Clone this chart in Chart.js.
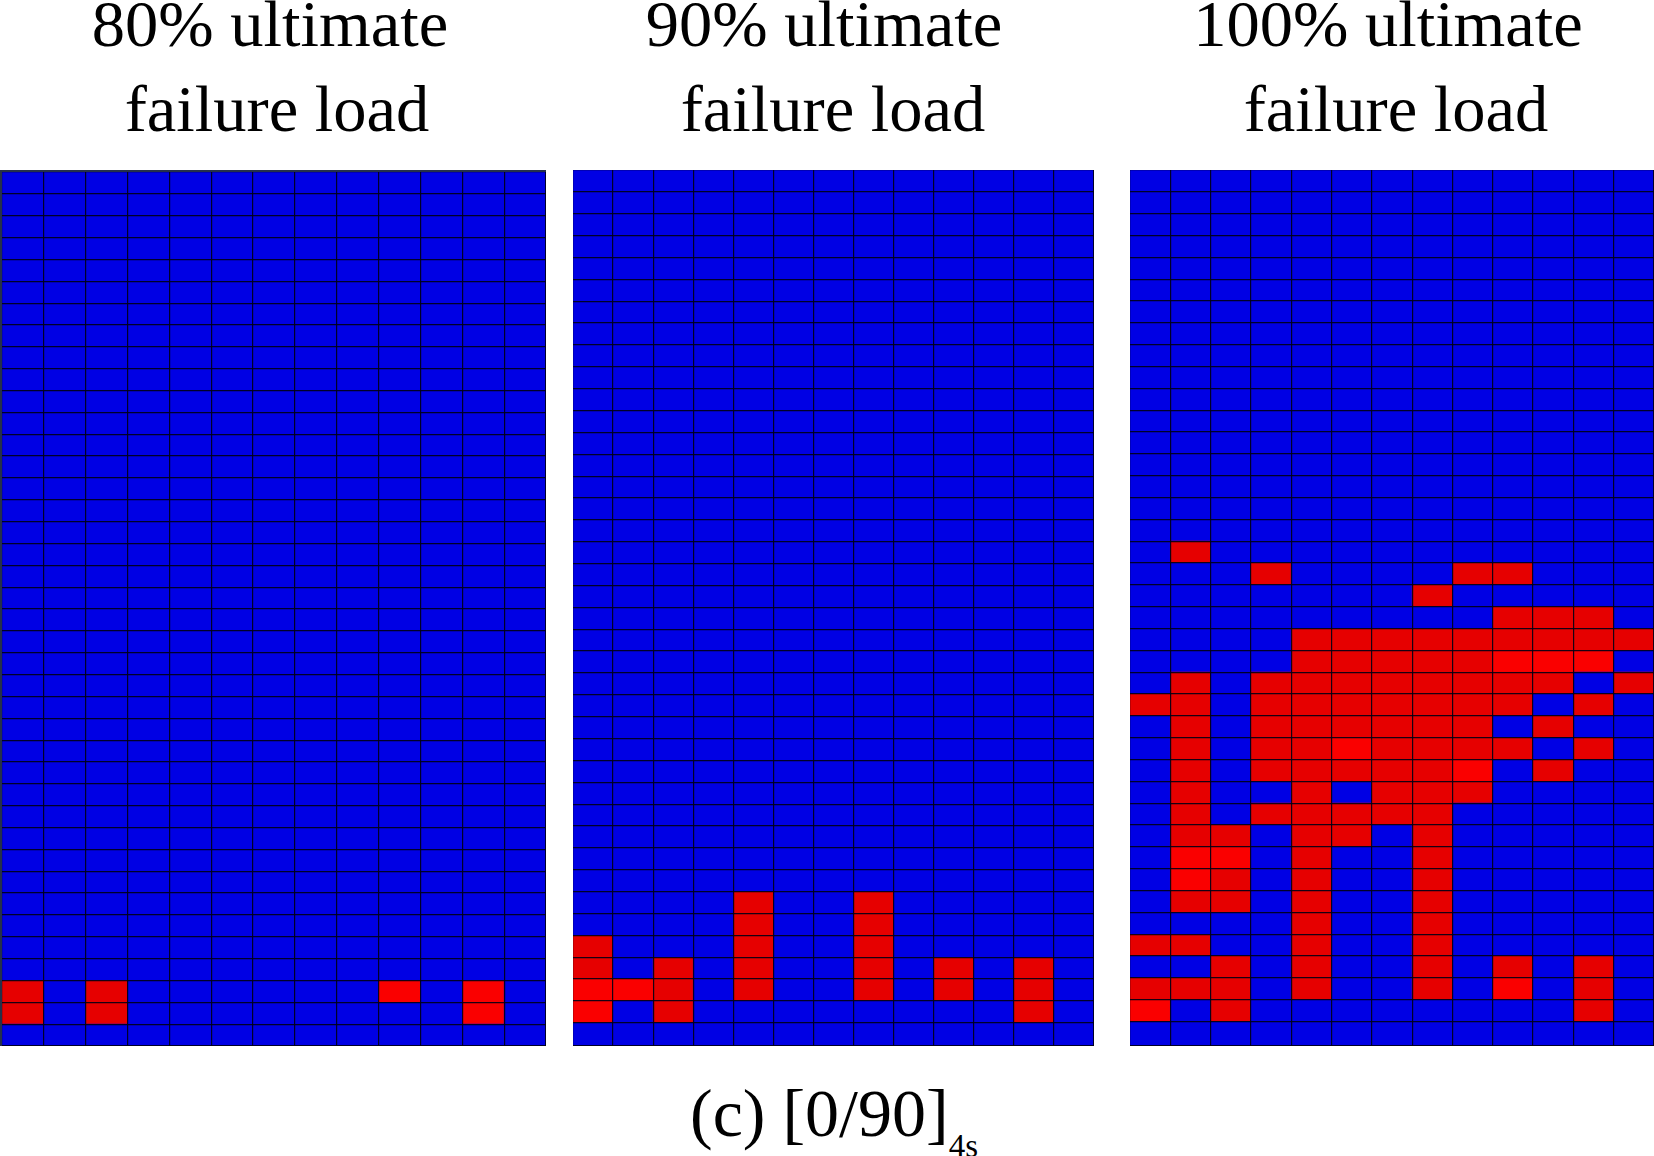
<!DOCTYPE html>
<html>
<head>
<meta charset="utf-8">
<script src="https://cdn.jsdelivr.net/npm/chart.js@4"></script>
<style>
  html, body { margin: 0; padding: 0; background: #fff; }
  body { position: relative; width: 1654px; height: 1156px; overflow: hidden; font-family: "Liberation Serif", serif; color: #000; }
  canvas { position: absolute; background: #0000e4; }
  .edge { position: absolute; left: 0; top: 170px; width: 546px; height: 876px; background: #26304a; }
  .label { position: absolute; font-size: 66.5px; line-height: 76px; white-space: nowrap; transform: translateX(-50%); }
  .caption { font-size: 68px; }
  sub { font-size: 33px; line-height: 0; vertical-align: -21px; }
</style>
</head>
<body>
<div class="label" style="left:270px;top:-14px">80% ultimate</div>
<div class="label" style="left:277px;top:71px">failure load</div>
<div class="label" style="left:824px;top:-14px">90% ultimate</div>
<div class="label" style="left:833px;top:71px">failure load</div>
<div class="label" style="left:1388px;top:-14px">100% ultimate</div>
<div class="label" style="left:1396px;top:71px">failure load</div>
<div class="label caption" style="left:834px;top:1075px">(c) [0/90]<sub>4s</sub></div>

<div class="edge"></div>
<canvas id="panel80" style="left:2px;top:172px"></canvas>
<canvas id="panel90" style="left:573px;top:170px"></canvas>
<canvas id="panel100" style="left:1130px;top:170px"></canvas>

<script>
const columns = ['1','2','3','4','5','6','7','8','9','10','11','12','13'];
const rowCount = 40;

// failed elements: row (counted from the bottom) -> columns
const failed80 = {
  1: [0,2,11],
  2: [0,2,9,11]
};
const failed90 = {
  1: [0,2,11],
  2: [0,1,2,4,7,9,11],
  3: [0,2,4,7,9,11],
  4: [0,4,7],
  5: [4,7],
  6: [4,7]
};
const failed100 = {
  1: [0,2,11],
  2: [0,1,2,4,7,9,11],
  3: [2,4,7,9,11],
  4: [0,1,4,7],
  5: [4,7],
  6: [1,2,4,7],
  7: [1,2,4,7],
  8: [1,2,4,7],
  9: [1,2,4,5,7],
  10: [1,3,4,5,6,7],
  11: [1,4,6,7,8],
  12: [1,3,4,5,6,7,8,10],
  13: [1,3,4,5,6,7,8,9,11],
  14: [1,3,4,5,6,7,8,10],
  15: [0,1,3,4,5,6,7,8,9,11],
  16: [1,3,4,5,6,7,8,9,10,12],
  17: [4,5,6,7,8,9,10,11],
  18: [4,5,6,7,8,9,10,11,12],
  19: [9,10,11],
  20: [7],
  21: [3,8,9],
  22: [1]
};

// the brighter red elements
const bright80 = { 1: [11], 2: [9,11] };
const bright90 = { 1: [0], 2: [0,1] };
const bright100 = { 1: [0], 7: [1], 8: [1,2], 12: [8], 13: [5], 17: [9,10,11], 2: [9] };

const okColor = '#0000e4';
const failColor = '#e60000';
const brightColor = '#fa0000';
const meshColor = 'rgba(0,0,20,0.9)';

function cellColor(failed, bright, r, i) {
  if (!(failed[r] || []).includes(i)) return okColor;
  return (bright[r] || []).includes(i) ? brightColor : failColor;
}

function buildRows(failed, bright) {
  const sets = [];
  for (let r = 0; r < rowCount; r++) {
    sets.push({
      data: columns.map(() => 1),
      backgroundColor: columns.map((c, i) => cellColor(failed, bright, r, i)),
      borderWidth: 0,
      barPercentage: 1,
      categoryPercentage: 1
    });
  }
  return sets;
}

function drawPanel(id, width, height, yMin, failed, bright) {
  const el = document.getElementById(id);
  el.width = width;
  el.height = height;
  new Chart(el.getContext('2d'), {
    type: 'bar',
    data: { labels: columns, datasets: buildRows(failed, bright) },
    options: {
      responsive: false,
      animation: false,
      devicePixelRatio: 1,
      plugins: { legend: { display: false }, tooltip: { enabled: false } },
      scales: {
        x: {
          stacked: true,
          grid: { color: meshColor, lineWidth: 1.2, z: 1, drawTicks: false, offset: true },
          border: { display: false },
          ticks: { display: false, autoSkip: false }
        },
        y: {
          stacked: true,
          min: yMin,
          max: rowCount,
          grid: { color: meshColor, lineWidth: 1.2, z: 1, drawTicks: false },
          border: { display: false },
          ticks: { display: false, stepSize: 1, autoSkip: false, maxTicksLimit: 42 }
        }
      }
    }
  });
}

drawPanel('panel80', 544, 874, 0, failed80, bright80);
drawPanel('panel90', 521, 876, -0.06, failed90, bright90);
drawPanel('panel100', 524, 876, -0.12, failed100, bright100);
</script>
</body>
</html>
